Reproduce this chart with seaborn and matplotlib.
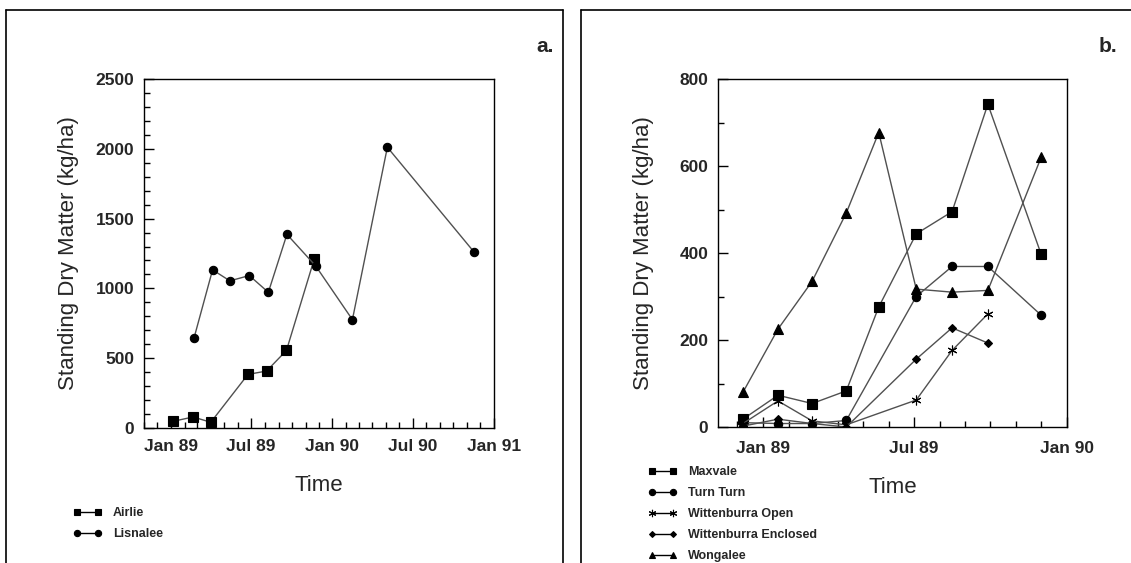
import matplotlib
matplotlib.use("Agg")
import matplotlib.pyplot as plt
import matplotlib.dates as mdates
from matplotlib.lines import Line2D
from matplotlib.ticker import MultipleLocator
import seaborn as sns
import pandas as pd

# ---------------- data ----------------
airlie_dates = ["1989-01-06", "1989-02-20", "1989-04-01", "1989-06-24",
                "1989-08-05", "1989-09-19", "1989-11-21"]
airlie_vals = [48, 79, 41, 384, 408, 556, 1213]

lisnalee_dates = ["1989-02-22", "1989-04-05", "1989-05-14", "1989-06-27",
                  "1989-08-09", "1989-09-20", "1989-11-24", "1990-02-15",
                  "1990-05-05", "1990-11-16"]
lisnalee_vals = [644, 1133, 1054, 1092, 972, 1387, 1161, 776, 2011, 1264]

b_dates = ["1988-12-08", "1989-01-19", "1989-03-01", "1989-04-11",
           "1989-05-20", "1989-07-04", "1989-08-16", "1989-09-28",
           "1989-12-01"]
maxvale = [18, 73, 54, 83, 276, 444, 495, 742, 397]
turnturn = [10, 8, 8, 15, None, 300, 369, 369, 257]
witt_open = [8, 60, 14, 5, None, 62, 176, 260, None]
witt_encl = [2, 18, 8, 0, None, 156, 228, 193, None]
wongalee = [80, 225, 335, 492, 677, 317, 310, 314, 620]

# ---------------- style ----------------
sns.set_style("ticks")
plt.rcParams["font.family"] = ["Liberation Sans", "DejaVu Sans"]

fig = plt.figure(figsize=(11.31, 5.63), dpi=100)
W, H = 1131, 563


def fx(px):
    return px / W


def fy(py):
    return 1 - py / H


ax_a = fig.add_axes([fx(144), fy(428), fx(494) - fx(144), fy(79) - fy(428)])
ax_b = fig.add_axes([fx(718), fy(427), fx(1067) - fx(718), fy(79) - fy(427)])

line_col = "#505050"
mk_col = "black"


def draw(ax, dates, vals, marker, ms, label):
    df = pd.DataFrame({"date": pd.to_datetime(dates), "val": vals}).dropna()
    sns.lineplot(data=df, x="date", y="val", ax=ax, color=line_col,
                 linewidth=1.0, marker=marker, markersize=ms,
                 markerfacecolor=mk_col, markeredgecolor=mk_col,
                 markeredgewidth=0.8, label=label)


draw(ax_a, airlie_dates, airlie_vals, "s", 6.5, "Airlie")
draw(ax_a, lisnalee_dates, lisnalee_vals, "o", 6, "Lisnalee")

draw(ax_b, b_dates, maxvale, "s", 6.5, "Maxvale")
draw(ax_b, b_dates, turnturn, "o", 6, "Turn Turn")
draw(ax_b, b_dates, witt_open, (6, 2, 0), 7, "Wittenburra Open")
draw(ax_b, b_dates, witt_encl, "D", 4, "Wittenburra Enclosed")
draw(ax_b, b_dates, wongalee, "^", 6.5, "Wongalee")

ax_a.set_xlim(pd.Timestamp("1988-11-01"), pd.Timestamp("1991-01-01"))
ax_a.set_ylim(0, 2500)
ax_a.yaxis.set_major_locator(MultipleLocator(500))
ax_a.yaxis.set_minor_locator(MultipleLocator(100))

ax_b.set_xlim(pd.Timestamp("1988-11-08"), pd.Timestamp("1990-01-01"))
ax_b.set_ylim(0, 800)
ax_b.yaxis.set_major_locator(MultipleLocator(200))
ax_b.yaxis.set_minor_locator(MultipleLocator(100))

for ax, ylpad, xtpad in ((ax_a, 12, 8), (ax_b, 18, 10)):
    ax.xaxis.set_major_locator(mdates.MonthLocator(bymonth=[1, 7]))
    ax.xaxis.set_minor_locator(mdates.MonthLocator())
    ax.xaxis.set_major_formatter(mdates.DateFormatter("%b %y"))
    ax.tick_params(which="both", direction="in", top=False, right=False,
                   color="black", width=1.0)
    ax.tick_params(which="major", length=7)
    ax.tick_params(which="minor", length=4)
    ax.tick_params(axis="y", which="major", pad=7)
    ax.tick_params(axis="x", which="major", pad=xtpad)
    for lab in ax.get_xticklabels() + ax.get_yticklabels():
        lab.set_fontsize(12.5)
        lab.set_fontweight("bold")
    for sp in ax.spines.values():
        sp.set_visible(True)
        sp.set_color("black")
        sp.set_linewidth(1.0)
    ax.set_ylabel("Standing Dry Matter (kg/ha)", fontsize=16, labelpad=ylpad)
    ax.set_xlabel("Time", fontsize=16, labelpad=15)

# legends
leg_kw = dict(numpoints=2, frameon=False, handlelength=2.3,
              handletextpad=0.9, labelspacing=0.72, borderpad=0,
              borderaxespad=0, loc="upper left", markerscale=0.75,
              bbox_transform=fig.transFigure,
              prop={"weight": "bold", "size": 9})
la = ax_a.legend(bbox_to_anchor=(fx(73), fy(507)), **leg_kw)
lb = ax_b.legend(bbox_to_anchor=(fx(648), fy(466)), **leg_kw)
for leg in (la, lb):
    for h in leg.legend_handles:
        h.set_color("black")
        h.set_linewidth(1.0)

# panel letters
fig.text(fx(545), fy(47), "a.", fontsize=15, fontweight="bold",
         ha="center", va="center")
fig.text(fx(1108), fy(47), "b.", fontsize=15, fontweight="bold",
         ha="center", va="center")

# panel frames
lw = 1.2
for x0, x1, right in ((5.5, 563, True), (580.5, 1131, False)):
    fig.add_artist(Line2D([fx(x0), fx(x0)], [fy(10), 0], color="black", lw=lw,
                          transform=fig.transFigure))
    fig.add_artist(Line2D([fx(x0), fx(x1)], [fy(10), fy(10)], color="black",
                          lw=lw, transform=fig.transFigure))
    if right:
        fig.add_artist(Line2D([fx(x1), fx(x1)], [fy(10), 0], color="black",
                              lw=lw, transform=fig.transFigure))

fig.savefig("out.png", dpi=100)
